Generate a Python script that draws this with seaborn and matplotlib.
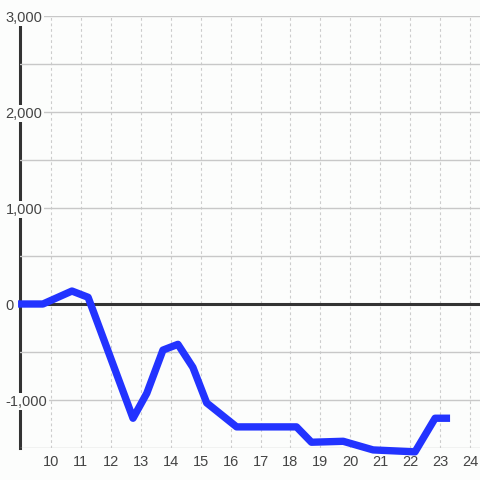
import matplotlib

matplotlib.use("Agg")
import matplotlib.pyplot as plt
import matplotlib.ticker as mticker
import seaborn as sns

# -- Data ----------------------------------------------------------------------

day = [8.9, 9.73, 10.7, 11.24, 12.74, 13.2, 13.74, 14.24, 14.74, 15.2,
       16.2, 18.2, 18.7, 19.76, 20.76, 22.16, 22.83, 23.33]
value = [0, 0, 135, 70, -1190, -930, -480, -420, -660, -1030,
         -1280, -1280, -1440, -1430, -1520, -1540, -1190, -1190]
x_ticks = list(range(10, 25))
y_ticks = [-1500, -1000, -500, 0, 500, 1000, 1500, 2000, 2500, 3000]
y_labelled = [-1000, 0, 1000, 2000, 3000]

BG = "#fcfdfc"

sns.set_theme(style="whitegrid")
plt.rcParams["font.family"] = ["Liberation Sans", "DejaVu Sans"]

fig = plt.figure(figsize=(4.8, 4.8), dpi=100, facecolor=BG)
ax = fig.add_axes([20 / 480, 32 / 480, 460 / 480, 432 / 480], facecolor=BG)

sns.lineplot(x=day, y=value, ax=ax, color="#2233ff", linewidth=5.3,
             clip_on=False, zorder=3)
for line in ax.get_lines():
    line.set_solid_capstyle("butt")

ax.axhline(0, color="#333333", linewidth=2.2, zorder=2)

ax.set_xlim(8.965, 24.33)
ax.set_ylim(-1500, 3000)
ax.set_xticks(x_ticks)
ax.set_yticks(y_ticks)
ax.yaxis.set_major_formatter(mticker.FuncFormatter(
    lambda v, _: f"{int(v):,}" if v in y_labelled else ""))

ax.grid(axis="y", color="#c8c8c8", linewidth=1.0, linestyle="-")
ax.grid(axis="x", color="#cccccc", linewidth=0.8, linestyle=(0, (2.5, 2.5)))

for side in ["top", "right", "bottom"]:
    ax.spines[side].set_visible(False)
ax.spines["left"].set_color("#333333")
ax.spines["left"].set_linewidth(2.2)
ax.spines["left"].set_zorder(0.4)
ax.yaxis.set_zorder(0.5)

ax.tick_params(axis="x", length=0, pad=5, labelsize=10.5, labelcolor="#444444")
ax.tick_params(axis="y", length=0, pad=10.5, labelsize=10.5, labelcolor="#444444")
for lab in ax.get_yticklabels():
    lab.set_horizontalalignment("left")
    lab.set_bbox(dict(facecolor=BG, edgecolor="none", pad=1.0))

ax.set_xlabel("")
ax.set_ylabel("")

fig.savefig("out.png", dpi=100, facecolor=BG)
